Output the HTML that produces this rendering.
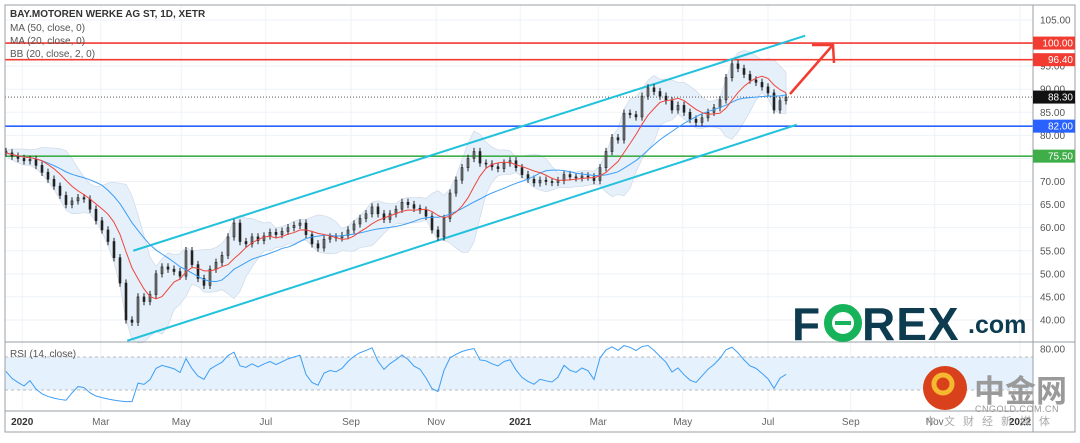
<!DOCTYPE html>
<html><head><meta charset="utf-8"><style>
body{margin:0;background:#fff;width:1080px;height:438px;overflow:hidden;font-family:"Liberation Sans","Noto Sans CJK SC",sans-serif}
svg text{font-family:"Liberation Sans","Noto Sans CJK SC",sans-serif}
</style></head><body>
<svg id="chart" width="1080" height="438" xmlns="http://www.w3.org/2000/svg">
<g id="grid"></g>
<g id="bands"></g>
<g id="levels"></g>
<g id="candles"></g>
<g id="mas"></g>
<g id="rsi"></g>
<g id="axes"></g>
<g font-size="10" fill="#555">
<text x="10" y="17" font-weight="bold" fill="#333">BAY.MOTOREN WERKE AG ST, 1D, XETR</text>
<text x="10" y="31">MA (50, close, 0)</text>
<text x="10" y="44">MA (20, close, 0)</text>
<text x="10" y="57">BB (20, close, 2, 0)</text>
<text x="10" y="357">RSI (14, close)</text>
</g>
<g>
<text x="792" y="340" font-size="46" font-weight="bold" fill="#0d3b4f">F</text>
<circle cx="843" cy="323" r="15" fill="none" stroke="#16b35a" stroke-width="8"/>
<line x1="835" y1="323" x2="851" y2="323" stroke="#16b35a" stroke-width="4"/>
<text x="862" y="340" font-size="46" font-weight="bold" fill="#0d3b4f" letter-spacing="1">REX</text>
<text x="968" y="333" font-size="25" font-weight="bold" fill="#0d3b4f">.com</text>
</g>
<g>
<circle cx="945" cy="388" r="22" fill="#d9401c"/>
<circle cx="943" cy="384" r="9" fill="none" stroke="#f5b82e" stroke-width="5"/>
<text x="974" y="402" font-size="31" font-weight="bold" fill="#9a9a9a">中金网</text>
<text x="975" y="412" font-size="9" fill="#999" letter-spacing="0.5">CNGOLD.COM.CN</text>
<text x="925" y="425" font-size="11" fill="#aaa" letter-spacing="8">中文财经新媒体</text>
</g>
</svg>
<script>
const closes=[76.2,75.5,75,74.5,74.8,73.5,72,70.5,69,67,65,65.8,66.5,66.2,64,61.5,59.5,57,53.5,48,40,39.5,45,44,45.5,50,51.5,51,50.5,49.5,55,52,49,47.5,51,52.5,54,58,61,57,56.5,58,57.2,58.2,59,58.5,59.2,60,60.5,61,58.5,56.5,55.6,57.5,58,57.8,58.3,59.5,60.8,62,63,64.5,63,61.8,63,64,65.5,65,64.2,63.8,62.5,59.5,58,62,67.5,70.3,73,75,76.5,74,73.8,73.2,72.8,74,74.5,73,71.5,70.5,69.7,70.3,70,69.8,70.2,71.5,71,70.8,71.2,71,70.2,73,76.5,79.5,79,84.8,84.5,84,88.5,90.3,89.5,88.5,87.5,85.5,86.5,85,83.5,82.8,83.8,85,86,87.7,92.5,95.5,94.5,93.2,92,91.5,90.5,89.2,85.5,87.5,88.3];
const priceTicks=[105,100,95,90,85,80,75,70,65,60,55,50,45,40];
const rsiTicks=[80];
const timeLabels=["2020","Mar","May","Jul","Sep","Nov","2021","Mar","May","Jul","Sep","Nov","2022"];
const timeIdx=[2.7,15.8,29.2,43.3,57.5,71.7,85.7,98.7,112.8,127,140.8,154.8,169];
const levelValues=[100,96.4,88.3,82,75.5];
const channelUpper=[[0,55],[133.2,101.6]];
const channelLower=[[-1,35.5],[131.8,82.3]];

const NS="http://www.w3.org/2000/svg";
const X0=6,DX=6,PR=1033;
const xOf=i=>X0+DX*i;
const yOf=p=>20+(105-p)*4.615;
const yR=v=>357+(70-v)*0.825;
function mk(tag,attrs,parent){const e=document.createElementNS(NS,tag);for(const k in attrs)e.setAttribute(k,attrs[k]);parent.appendChild(e);return e;}
const G=id=>document.getElementById(id);

const grid=G('grid');
priceTicks.forEach(p=>{const l=mk('line',{x1:5,x2:PR,y1:yOf(p),y2:yOf(p),stroke:'#eef2f7'},grid);

});
timeIdx.forEach(t=>{const l=mk('line',{x1:xOf(t),x2:xOf(t),y1:5,y2:411,stroke:'#eef2f7'},grid);

});

function sma(n){return closes.map((c,i)=>{const s=closes.slice(Math.max(0,i-n+1),i+1);return s.reduce((a,b)=>a+b,0)/s.length;});}
const ma20=sma(7),ma50=sma(17);
const bbU=[],bbL=[];
closes.forEach((c,i)=>{const s=closes.slice(Math.max(0,i-6),i+1);const m=ma20[i];const sd=Math.sqrt(s.reduce((a,b)=>a+(b-m)*(b-m),0)/s.length);bbU.push(m+1.8*sd+0.6);bbL.push(m-1.8*sd-0.6);});
let d='M'+bbU.map((v,i)=>xOf(i)+','+yOf(v)).join('L')+'L'+bbL.map((v,i)=>xOf(i)+','+yOf(v)).reverse().join('L')+'Z';
const band=mk('path',{d:d,fill:'#e6f0fb',stroke:'#d3dde8','stroke-width':0.8},G('bands'));



const lv=G('levels');
const lvColors=['#f23b31','#f23b31','#444','#2962ff','#3fae49'];
levelValues.forEach((v,k)=>{
 const y=yOf(v);
 const l=mk('line',{x1:5,x2:PR,y1:y,y2:y,stroke:lvColors[k],'stroke-width':k==2?0.8:1.6,'stroke-dasharray':k==2?'1,2':''},lv);
 
 
});
[channelUpper,channelLower].forEach(ch=>{
 const l=mk('line',{x1:xOf(ch[0][0]+21.2),y1:yOf(ch[0][1]),x2:xOf(ch[1][0]),y2:yOf(ch[1][1]),stroke:'#22c1dc','stroke-width':2},lv);
 
 
});
const ar=mk('path',{d:'M790,94 L832,46 M812,45 L833,45 L834,63',stroke:'#f23b31','stroke-width':2.5,fill:'none'},lv);



const cg=G('candles');
closes.forEach((c,i)=>{
 const o=i?closes[i-1]:c+0.3;const hi=Math.max(o,c)+0.8,lo=Math.min(o,c)-0.8;const x=xOf(i);
 const w=mk('line',{x1:x,x2:x,y1:yOf(hi),y2:yOf(lo),stroke:'#222','stroke-width':1},cg);
 
 
 const b=mk('rect',{x:x-1,y:yOf(Math.max(o,c)),width:2,height:Math.max(1,Math.abs(yOf(o)-yOf(c))),fill:c>=o?'#777':'#222',stroke:'#222','stroke-width':0.6},cg);
 
 
});
[[ma50,'#3d9ef5'],[ma20,'#f0453a']].forEach(([arr,col])=>{
 const p=mk('polyline',{points:arr.map((v,i)=>xOf(i)+','+yOf(v)).join(' '),fill:'none',stroke:col,'stroke-width':1},G('mas'));
 
 
});

const rg=G('rsi');
const rb=mk('rect',{x:5,y:yR(70),width:PR-5,height:yR(30)-yR(70),fill:'#e5f1fc'},rg);


[70,30].forEach(v=>{const l=mk('line',{x1:5,x2:PR,y1:yR(v),y2:yR(v),stroke:'#bbb','stroke-dasharray':'3,3'},rg);

});
let ag=0.3,al=0.3;
const rsiVals=closes.map((c,i)=>{if(i>0){const dd=c-closes[i-1];ag=(ag*4+Math.max(dd,0))/5;al=(al*4+Math.max(-dd,0))/5;}return 15+75*ag/(ag+al);});
const rl=mk('polyline',{points:rsiVals.map((v,i)=>xOf(i)+','+yR(v)).join(' '),fill:'none',stroke:'#3d9ef5','stroke-width':1},rg);



const ax=G('axes');
[['M5,5 L1075,5 L1075,432 L5,432 Z'],['M1033,5 L1033,432'],['M5,342 L1075,342'],['M5,411 L1033,411']].forEach(([p])=>{
 const e=mk('path',{d:p,fill:'none',stroke:'#9aa0a6','stroke-width':1},ax);
 
 
});
priceTicks.forEach(p=>{const t=mk('text',{x:1040,y:yOf(p)+3.5,'font-size':10,fill:'#555'},ax);t.textContent=p.toFixed(2);

});
rsiTicks.forEach(v=>{const t=mk('text',{x:1040,y:yR(v)+3.5,'font-size':10,fill:'#555'},ax);t.textContent=v.toFixed(2);

});
timeLabels.forEach((s,k)=>{const bold=/^\d/.test(s);const t=mk('text',{x:xOf(timeIdx[k]),y:425,'font-size':10,fill:bold?'#333':'#666','font-weight':bold?'bold':'normal','text-anchor':'middle'},ax);t.textContent=s;

});
levelValues.forEach((v,k)=>{
 const y=yOf(v);
 const r=mk('rect',{x:PR,y:y-6.5,width:42,height:13,fill:k==2?'#111':lvColors[k]},ax);
 
 
 const t=mk('text',{x:PR+40,y:y+3.5,'font-size':10,fill:'#fff','text-anchor':'end'},ax);
 t.textContent=v.toFixed(2);
 
 
});
</script>
</body></html>
